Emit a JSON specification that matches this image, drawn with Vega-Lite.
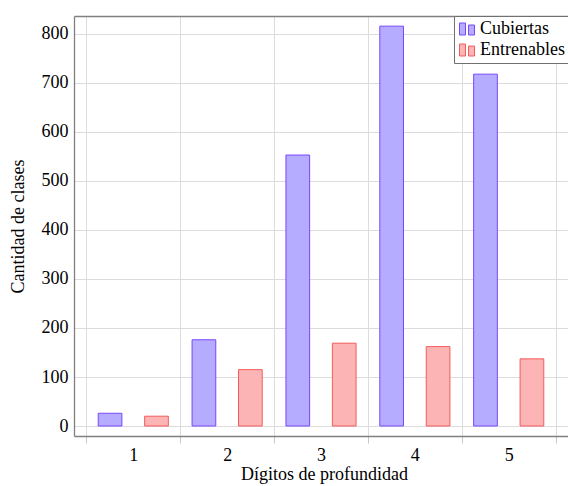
{
  "$schema": "https://vega.github.io/schema/vega-lite/v6.json",
  "autosize": "none",
  "width": 494,
  "height": 420,
  "padding": {"left": 74, "top": 16, "right": 0, "bottom": 50},
  "background": "white",
  "config": {
    "view": {"stroke": null},
    "font": "Liberation Serif",
    "axis": {
      "labelFont": "Liberation Serif",
      "titleFont": "Liberation Serif",
      "labelFontSize": 18,
      "titleFontSize": 18,
      "titleFontWeight": "normal",
      "labelColor": "black",
      "titleColor": "black",
      "gridColor": "#dcdcdc",
      "gridWidth": 1,
      "domainColor": "#808080",
      "domainWidth": 1.3
    },
    "legend": {
      "labelFont": "Liberation Serif",
      "labelFontSize": 18,
      "labelColor": "black"
    }
  },
  "data": {
    "values": [
      {"digitos": 1, "serie": "Cubiertas", "clases": 26},
      {"digitos": 1, "serie": "Entrenables", "clases": 20},
      {"digitos": 2, "serie": "Cubiertas", "clases": 176},
      {"digitos": 2, "serie": "Entrenables", "clases": 115},
      {"digitos": 3, "serie": "Cubiertas", "clases": 553},
      {"digitos": 3, "serie": "Entrenables", "clases": 169},
      {"digitos": 4, "serie": "Cubiertas", "clases": 816},
      {"digitos": 4, "serie": "Entrenables", "clases": 162},
      {"digitos": 5, "serie": "Cubiertas", "clases": 718},
      {"digitos": 5, "serie": "Entrenables", "clases": 137}
    ]
  },
  "layer": [
    {
      "mark": {"type": "bar", "strokeWidth": 1},
      "encoding": {
        "x": {
          "field": "digitos",
          "type": "ordinal",
          "scale": {"paddingInner": 0, "paddingOuter": 0.1316},
          "axis": {
            "title": "Dígitos de profundidad",
            "titleX": 250,
            "titlePadding": 1,
            "labelAngle": 0,
            "tickBand": "extent",
            "grid": true,
            "ticks": true,
            "tickSize": 7,
            "tickColor": "#c8c8c8",
            "labelPadding": 3
          }
        },
        "xOffset": {
          "field": "serie",
          "type": "nominal",
          "scale": {"domain": ["Cubiertas", "Entrenables"], "paddingInner": 0.4894, "paddingOuter": 0.2553}
        },
        "y": {
          "field": "clases",
          "type": "quantitative",
          "scale": {"domain": [-20.4, 836.7], "nice": false, "zero": false},
          "axis": {
            "title": "Cantidad de clases",
            "values": [0, 100, 200, 300, 400, 500, 600, 700, 800],
            "ticks": false,
            "labelPadding": 6,
            "titlePadding": 14
          }
        },
        "y2": {"datum": 0},
        "color": {
          "field": "serie",
          "type": "nominal",
          "scale": {"domain": ["Cubiertas", "Entrenables"], "range": ["#b5abff", "#fcb4b4"]},
          "legend": {
            "title": null,
            "orient": "none",
            "legendX": 380,
            "legendY": 0,
            "direction": "vertical",
            "fillColor": "white",
            "strokeColor": "#707070",
            "padding": 4,
            "rowPadding": 3,
            "symbolType": "M-1,-0.8H-0.2V0.8H-1Z M0.2,-0.53H1V0.8H0.2Z",
            "symbolSize": 225,
            "symbolStrokeWidth": 1,
            "labelOffset": 4
          }
        },
        "stroke": {
          "field": "serie",
          "type": "nominal",
          "scale": {"domain": ["Cubiertas", "Entrenables"], "range": ["#7a48ff", "#f45c5c"]},
          "legend": null
        }
      }
    },
    {
      "mark": {"type": "rule", "opacity": 0},
      "encoding": {
        "x": {
          "field": "digitos",
          "type": "ordinal",
          "axis": {
            "orient": "top",
            "title": null,
            "labels": false,
            "ticks": false,
            "grid": false,
            "domain": true
          }
        }
      }
    }
  ],
  "resolve": {"axis": {"x": "independent"}}
}
